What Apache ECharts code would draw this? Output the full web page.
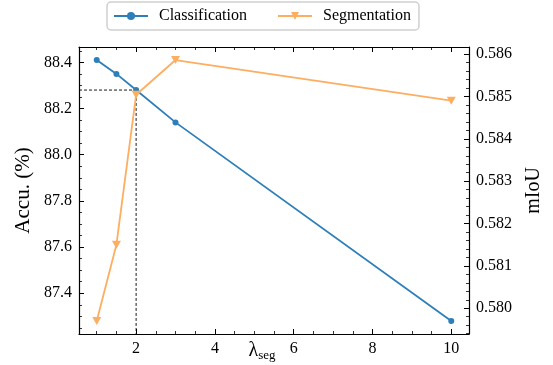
<!DOCTYPE html>
<html>
<head>
<meta charset="utf-8">
<script src="https://cdn.jsdelivr.net/npm/echarts@6/dist/echarts.min.js"></script>
<style>
html,body{margin:0;padding:0;background:#fff;}
#chart{width:553px;height:365px;}
</style>
</head>
<body>
<div id="chart"></div>
<script>
// ---- data ----
var lambdaSeg = [1, 1.5, 2, 3, 10];
var classificationAcc = [88.41, 88.35, 88.28, 88.14, 87.28];
var segmentationMIoU = [0.5797, 0.5815, 0.58504, 0.58586, 0.5849];
var refLambda = 2;
var refAcc = 88.28;
var seriesNames = ['Classification', 'Segmentation'];

// ---- axis extents (matplotlib-like 5% margins) ----
function padExtent(arr) {
  var mn = Math.min.apply(null, arr), mx = Math.max.apply(null, arr);
  var r = mx - mn;
  return [mn - 0.05 * r, mx + 0.05 * r];
}
var xExt = padExtent(lambdaSeg);
var yLExt = padExtent(classificationAcc);
var yRExt = padExtent(segmentationMIoU);

var FONT = 'Liberation Serif';
var BLUE = '#2e7fb9';
var ORANGE = '#fdae61';

function zip(xs, ys) { return xs.map(function (x, i) { return [x, ys[i]]; }); }

var chart = echarts.init(document.getElementById('chart'), null, {renderer: 'canvas'});

var tickCommon = {show: true, inside: true, length: 5, lineStyle: {color: '#000', width: 1}};
var minorCommon = {show: true, length: 3, lineStyle: {color: '#000', width: 0.8}};
var lineCommon = {show: true, onZero: false, lineStyle: {color: '#000', width: 1.2}};

var option = {
  animation: false,
  backgroundColor: '#fff',
  legend: {
    top: 2,
    left: 107,
    data: seriesNames,
    itemWidth: 34,
    itemHeight: 10,
    itemGap: 30,
    padding: [6, 8, 6, 6],
    borderColor: '#cfcfcf',
    borderWidth: 1.5,
    borderRadius: 4,
    textStyle: {fontFamily: FONT, fontSize: 16, color: '#000', padding: [0, 0, 0, 6]}
  },
  grid: {left: 79, right: 84, top: 47, bottom: 31, containLabel: false, outerBoundsMode: 'none'},
  xAxis: [{
    type: 'value',
    position: 'bottom',
    min: xExt[0], max: xExt[1],
    splitNumber: 5,
    name: '{a|λ}{s|seg}',
    nameLocation: 'middle',
    nameGap: 6,
    nameMoveOverlap: false,
    nameTextStyle: {
      padding: [0, 24, 0, 0],
      rich: {
        a: {fontFamily: FONT, fontSize: 20, color: '#000'},
        s: {fontFamily: FONT, fontSize: 13, color: '#000', padding: [9, 0, 0, 0]}
      }
    },
    axisLine: lineCommon,
    axisTick: tickCommon,
    minorTick: Object.assign({splitNumber: 4}, minorCommon),
    splitLine: {show: false},
    axisLabel: {
      fontFamily: FONT, fontSize: 16, color: '#000', margin: 7,
      showMinLabel: false, showMaxLabel: false,
      formatter: function (v) { return (Math.abs(v - Math.round(v)) < 1e-6 && Math.round(v) % 2 === 0) ? String(Math.round(v)) : ''; }
    }
  }, {
    type: 'value',
    position: 'top',
    min: xExt[0], max: xExt[1],
    splitNumber: 5,
    axisLine: lineCommon,
    axisTick: tickCommon,
    minorTick: Object.assign({splitNumber: 4}, minorCommon),
    splitLine: {show: false},
    axisLabel: {show: false}
  }],
  yAxis: [{
    type: 'value',
    position: 'left',
    min: yLExt[0], max: yLExt[1],
    splitNumber: 6,
    name: 'Accu. (%)',
    nameLocation: 'middle',
    nameGap: 45,
    nameRotate: 90,
    nameMoveOverlap: false,
    nameTextStyle: {fontFamily: FONT, fontSize: 21, color: '#000'},
    axisLine: lineCommon,
    axisTick: tickCommon,
    minorTick: Object.assign({splitNumber: 4}, minorCommon),
    splitLine: {show: false},
    axisLabel: {
      fontFamily: FONT, fontSize: 16, color: '#000', margin: 7,
      showMinLabel: false, showMaxLabel: false,
      formatter: function (v) { var k = v / 0.2; return Math.abs(k - Math.round(k)) < 1e-6 ? v.toFixed(1) : ''; }
    }
  }, {
    type: 'value',
    position: 'right',
    min: yRExt[0], max: yRExt[1],
    splitNumber: 7,
    name: 'mIoU',
    nameLocation: 'middle',
    nameGap: 55,
    nameRotate: 90,
    nameMoveOverlap: false,
    nameTextStyle: {fontFamily: FONT, fontSize: 20, color: '#000'},
    axisLine: lineCommon,
    axisTick: tickCommon,
    minorTick: Object.assign({splitNumber: 5}, minorCommon),
    splitLine: {show: false},
    axisLabel: {
      fontFamily: FONT, fontSize: 16, color: '#000', margin: 7,
      showMinLabel: false, showMaxLabel: false,
      formatter: function (v) { var k = v / 0.001; return Math.abs(k - Math.round(k)) < 1e-4 ? v.toFixed(3) : ''; }
    }
  }],
  series: [{
    name: 'ref',
    type: 'line',
    xAxisIndex: 0, yAxisIndex: 0,
    data: [[xExt[0], refAcc], [refLambda, refAcc], [refLambda, yLExt[0]]],
    showSymbol: false,
    symbol: 'none',
    silent: true,
    lineStyle: {color: '#000', width: 0.9, type: [3, 2]},
    z: 1
  }, {
    name: seriesNames[0],
    type: 'line',
    xAxisIndex: 0, yAxisIndex: 0,
    data: zip(lambdaSeg, classificationAcc),
    symbol: 'circle',
    symbolSize: 6,
    color: BLUE,
    lineStyle: {color: BLUE, width: 1.8},
    itemStyle: {color: BLUE},
    z: 3
  }, {
    name: seriesNames[1],
    type: 'line',
    xAxisIndex: 0, yAxisIndex: 1,
    data: zip(lambdaSeg, segmentationMIoU),
    symbol: 'path://M0,0 L10,0 L5,9 Z',
    symbolSize: [9, 8],
    color: ORANGE,
    lineStyle: {color: ORANGE, width: 1.8},
    itemStyle: {color: ORANGE},
    z: 4
  }]
};
chart.setOption(option);
</script>
</body>
</html>
